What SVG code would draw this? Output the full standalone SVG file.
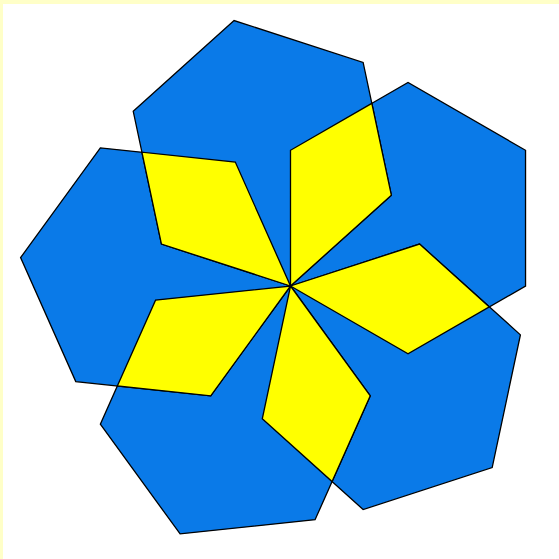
<svg xmlns="http://www.w3.org/2000/svg" width="559" height="559" viewBox="0 0 559 559">
<style>
.hex{fill:#0A7AE8;stroke:#000;stroke-width:1.3;stroke-linejoin:miter}
.kite{fill:#FFFF00;stroke:#000;stroke-width:1.3;stroke-linejoin:miter}
</style>
<rect x="0" y="0" width="559" height="559" fill="#FFFFC8"/>
<rect x="3" y="4" width="556" height="555" fill="#FFFFFF"/>
<g id="hexagons">
<polygon id="hex0" class="hex" points="290.5,286 290.5,150.3 408.02,82.45 525.54,150.3 525.54,286 408.02,353.85"/>
<polygon id="hex1" class="hex" points="290.5,286 419.56,244.07 520.41,334.87 492.19,467.61 363.13,509.54 262.29,418.74"/>
<polygon id="hex2" class="hex" points="290.5,286 370.26,395.78 315.06,519.76 180.11,533.93 100.35,424.15 155.54,300.19"/>
<polygon id="hex3" class="hex" points="290.5,286 210.74,395.78 75.78,381.6 20.59,257.63 100.35,147.85 235.3,162.03"/>
<polygon id="hex4" class="hex" points="290.5,286 161.44,244.07 133.23,111.33 234.07,20.53 363.13,62.46 391.35,195.2"/>
</g>
<g id="kites">
<polygon id="kite0" class="kite" points="290.5,286 419.56,244.07 489.34,306.9 408.02,353.85"/>
<polygon id="kite1" class="kite" points="290.5,286 370.26,395.78 332.06,481.57 262.29,418.74"/>
<polygon id="kite2" class="kite" points="290.5,286 210.74,395.78 117.35,385.97 155.54,300.19"/>
<polygon id="kite3" class="kite" points="290.5,286 161.44,244.07 141.91,152.21 235.3,162.03"/>
<polygon id="kite4" class="kite" points="290.5,286 290.5,150.3 371.82,103.35 391.35,195.2"/>
</g>
</svg>
